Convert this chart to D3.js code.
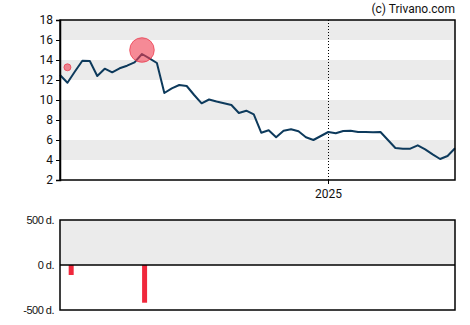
<!DOCTYPE html>
<html><head><meta charset="utf-8">
<script src="https://cdn.jsdelivr.net/npm/d3@7"></script>
<style>body{margin:0;background:#fff}svg{display:block;font-family:Roboto,"Liberation Sans",Arial,sans-serif}</style>
</head><body><svg id="c" width="470" height="325"></svg>
<script>
// Weekly prices (index = week)
const prices = [12.5,11.73,12.85,13.93,13.9,12.4,13.13,12.77,13.17,13.43,13.77,14.6,14.17,13.7,10.7,11.17,11.5,11.4,10.5,9.67,10.05,9.85,9.68,9.5,8.7,8.93,8.57,6.73,6.97,6.27,6.93,7.07,6.87,6.27,6.0,6.4,6.8,6.67,6.9,6.93,6.8,6.8,6.77,6.8,6.0,5.2,5.13,5.13,5.47,5.07,4.57,4.1,4.4,5.17];
const yTicks = [2,4,6,8,10,12,14,16,18];
const yearLabels = ["2025"];
const yearIndex = [36];
// event markers
const markerIndex = [1, 11];
const markerValue = [13.27, 15.0];
const markerSize = [3.5, 12.3];
// lower panel
const barIndex = [1.5, 11.35];
const barValues = [-111, -419];
const barTicks = [500, 0, -500];
const barTickLabels = ["500 d.", "0 d.", "-500 d."];

const svg = d3.select("#c");
const L = 60, R = 455, T = 20, B = 180;
const x = d3.scaleLinear().domain([0, prices.length - 1]).range([L, R]);
const y = d3.scaleLinear().domain([2, 18]).range([B, T]);

// bands
for (let i = 0; i < yTicks.length - 1; i++) {
  const v = yTicks[i];
  if (v === 4 || v === 8 || v === 12 || v === 16) {
    svg.append("rect").attr("x", L).attr("width", R - L)
      .attr("y", y(v + 2)).attr("height", y(v) - y(v + 2)).attr("fill", "#ebebeb");
  }
}
// year line
yearIndex.forEach((yi, k) => {
  const xx = Math.round(x(yi)) + 0.5;
  svg.append("line").attr("x1", xx).attr("x2", xx).attr("y1", T).attr("y2", B)
    .attr("stroke", "#000").attr("stroke-dasharray", "1,2").attr("stroke-width", 1);
  svg.append("line").attr("x1", xx).attr("x2", xx).attr("y1", B).attr("y2", B + 4).attr("stroke", "#000");
  svg.append("text").attr("x", xx).attr("y", B + 18).attr("text-anchor", "middle")
    .attr("font-size", 12).attr("fill", "#111").text(yearLabels[k]);
});

// line
svg.append("path").datum(prices)
  .attr("d", d3.line().x((d, i) => x(i)).y(d => y(d)))
  .attr("fill", "none").attr("stroke", "#0d3a5c").attr("stroke-width", 2).attr("stroke-linejoin", "round");

// markers
markerIndex.forEach((mi, k) => {
  svg.append("circle").attr("cx", x(mi)).attr("cy", y(markerValue[k])).attr("r", markerSize[k])
    .attr("fill", "rgba(240,60,80,0.6)").attr("stroke", "rgba(235,50,70,0.7)").attr("stroke-width", 1);
});

// frame
svg.append("rect").attr("x", L).attr("y", T).attr("width", R - L).attr("height", B - T)
  .attr("fill", "none").attr("stroke", "#000").attr("stroke-width", 1.5);

// y axis
const ya = svg.append("g").attr("transform", `translate(${L},0)`)
  .call(d3.axisLeft(y).tickValues(yTicks).tickSize(4).tickFormat(d3.format("d")));
ya.select(".domain").attr("stroke", "#000").attr("stroke-width", 1.5);
ya.selectAll("text").attr("font-size", 12).attr("fill", "#111").attr("font-family", "Roboto");
ya.selectAll(".tick line").attr("stroke", "#000");

// copyright
svg.append("text").attr("x", R).attr("y", 13).attr("text-anchor", "end")
  .attr("font-size", 12).attr("fill", "#111").text("(c) Trivano.com");

// lower panel
const T2 = 220, B2 = 310;
const y2 = d3.scaleLinear().domain([-500, 500]).range([B2, T2]);
svg.append("rect").attr("x", L).attr("y", T2).attr("width", R - L).attr("height", y2(0) - T2).attr("fill", "#ebebeb");
svg.selectAll(".bar").data(barValues).enter().append("rect")
  .attr("x", (d, i) => x(barIndex[i]) - 2.5).attr("width", 5)
  .attr("y", y2(0)).attr("height", d => y2(d) - y2(0)).attr("fill", "#f0283c");
svg.append("line").attr("x1", L).attr("x2", R).attr("y1", y2(0)).attr("y2", y2(0)).attr("stroke", "#000").attr("stroke-width", 1.5);
svg.append("rect").attr("x", L).attr("y", T2).attr("width", R - L).attr("height", B2 - T2)
  .attr("fill", "none").attr("stroke", "#000").attr("stroke-width", 1.5);
svg.selectAll(".bl").data(barTicks).enter().append("text")
  .attr("x", L - 6).attr("y", d => y2(d) + 4).attr("text-anchor", "end")
  .attr("font-size", 11).attr("font-family", "'Liberation Sans',Arial,sans-serif").attr("fill", "#111")
  .attr("letter-spacing", "-0.5")
  .text((d, i) => barTickLabels[i]);
</script></body></html>
